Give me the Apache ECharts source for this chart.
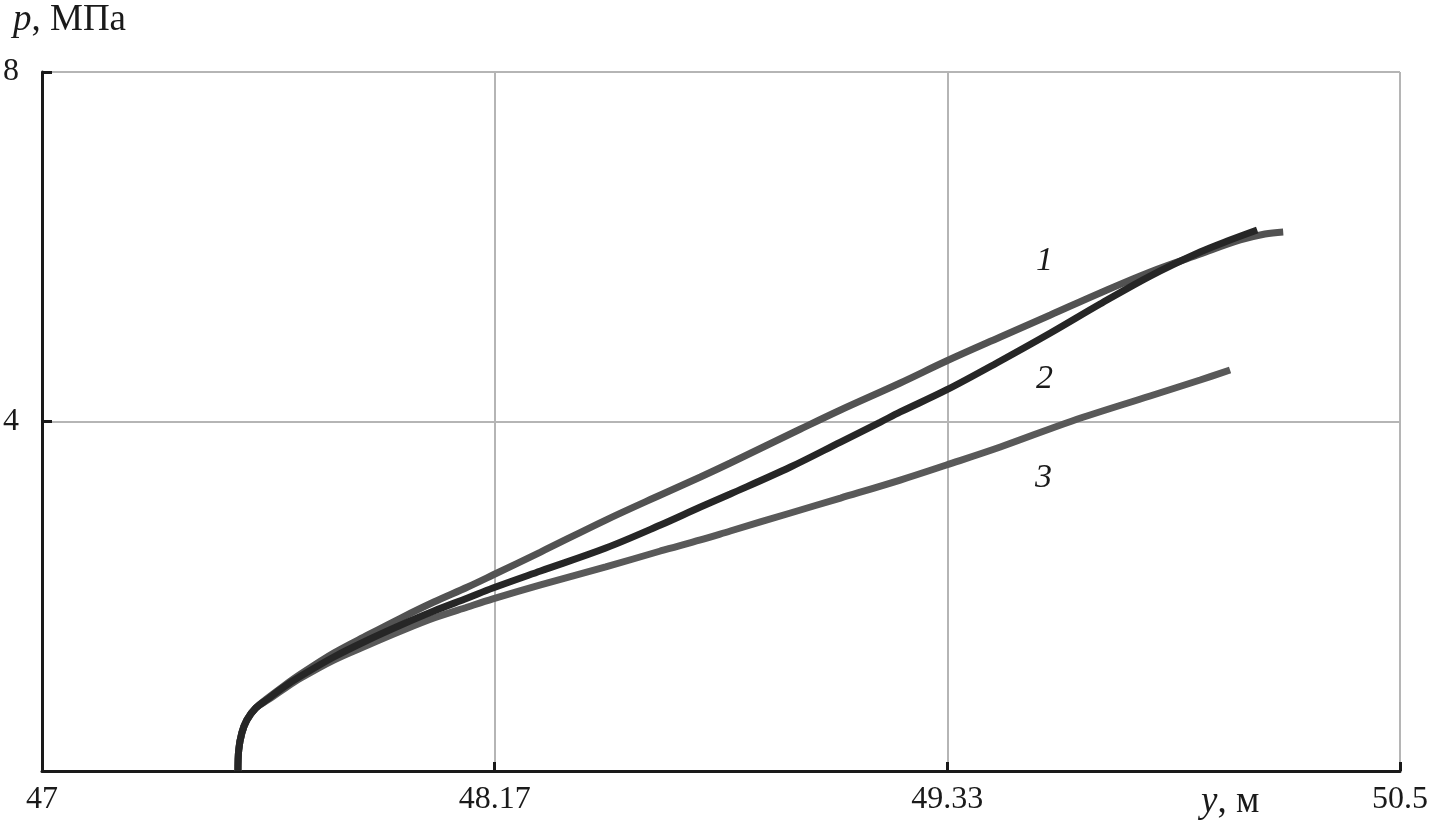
<!DOCTYPE html>
<html>
<head>
<meta charset="utf-8">
<script src="https://cdn.jsdelivr.net/npm/echarts@6/dist/echarts.min.js"></script>
<style>
html,body{margin:0;padding:0;background:#fff;}
#chart{width:1436px;height:834px;}
</style>
</head>
<body>
<div id="chart"></div>
<script>
// ---- data ----
const xTickValues = [47, 48.1667, 49.3333, 50.5];
const xTickLabels = ['47', '48.17', '49.33', '50.5'];

const curve1X = [47.505,47.507,47.515,47.528,47.551,47.582,47.623,47.667,47.752,47.840,47.925,48.010,48.097,48.162,48.285,48.453,48.594,48.697,48.774,48.955,49.058,49.212,49.331,49.470,49.599,49.727,49.856,49.985,50.088,50.152,50.199];
const curve1Y = [0,0.24,0.435,0.584,0.721,0.835,0.973,1.11,1.35,1.557,1.751,1.934,2.106,2.243,2.506,2.872,3.159,3.365,3.525,3.914,4.132,4.441,4.692,4.967,5.219,5.471,5.711,5.917,6.077,6.146,6.169];

const curve2X = [47.505,47.507,47.515,47.528,47.551,47.582,47.623,47.667,47.752,47.840,47.925,48.010,48.097,48.162,48.285,48.453,48.594,48.697,48.774,48.929,49.058,49.161,49.212,49.331,49.470,49.599,49.727,49.856,49.985,50.062,50.132];
const curve2Y = [0,0.24,0.435,0.584,0.721,0.824,0.961,1.087,1.305,1.499,1.671,1.831,1.98,2.094,2.289,2.552,2.815,3.021,3.17,3.479,3.765,3.994,4.109,4.361,4.693,5.013,5.345,5.665,5.94,6.077,6.192];

const curve3X = [47.505,47.507,47.515,47.528,47.551,47.582,47.623,47.667,47.752,47.840,47.925,48.010,48.097,48.162,48.285,48.453,48.594,48.697,48.774,48.929,49.058,49.212,49.331,49.470,49.655,49.856,49.985,50.062];
const curve3Y = [0,0.24,0.435,0.584,0.721,0.813,0.938,1.064,1.27,1.442,1.602,1.751,1.877,1.969,2.129,2.335,2.518,2.644,2.747,2.953,3.124,3.33,3.502,3.708,4.006,4.292,4.475,4.589];

const curveNames = ['1', '2', '3'];

// ---- build ----
function pairs(xs, ys) { return xs.map((x, i) => [x, ys[i]]); }
const SERIF = '"Liberation Serif", "DejaVu Serif", serif';
const INK = '#1a1a1a';

const chart = echarts.init(document.getElementById('chart'), null, {renderer: 'canvas'});

const option = {
  animation: false,
  backgroundColor: '#ffffff',
  grid: {left: 41, right: 36, top: 72, bottom: 63, containLabel: false},
  xAxis: {
    type: 'value', min: 47, max: 50.5,
    axisLine: {show: true, onZero: false, lineStyle: {color: INK, width: 3}},
    axisTick: {show: true, inside: true, length: 9, customValues: xTickValues, lineStyle: {color: INK, width: 3}},
    splitLine: {show: true, lineStyle: {color: '#b5b5b5', width: 2}},
    axisLabel: {
      customValues: xTickValues,
      margin: 13,
      color: INK, fontFamily: SERIF, fontSize: 32,
      formatter: function (v) {
        let best = 0;
        xTickValues.forEach((t, i) => { if (Math.abs(t - v) < Math.abs(xTickValues[best] - v)) best = i; });
        return xTickLabels[best];
      }
    }
  },
  yAxis: {
    type: 'value', min: 0, max: 8, interval: 4,
    axisLine: {show: true, onZero: false, lineStyle: {color: INK, width: 3}},
    axisTick: {show: true, inside: true, length: 10, lineStyle: {color: INK, width: 3}},
    splitLine: {show: true, lineStyle: {color: '#b5b5b5', width: 2}},
    axisLabel: {
      showMinLabel: false, margin: 23,
      color: INK, fontFamily: SERIF, fontSize: 32
    }
  },
  graphic: [
    {type: 'text', left: 13, top: 2, style: {
      text: '{i|p}, МПа', fill: INK, font: '37px ' + SERIF,
      rich: {i: {fontStyle: 'italic', fontFamily: SERIF, fontSize: 37, fill: INK}}
    }},
    {type: 'text', left: 1201, top: 784, style: {
      text: '{i|y}, м', fill: INK, font: '37px ' + SERIF,
      rich: {i: {fontStyle: 'italic', fontFamily: SERIF, fontSize: 37, fill: INK}}
    }},
    {type: 'text', left: 1036, top: 244, style: {text: curveNames[0], fill: INK, font: 'italic 34px ' + SERIF}},
    {type: 'text', left: 1036, top: 362, style: {text: curveNames[1], fill: INK, font: 'italic 34px ' + SERIF}},
    {type: 'text', left: 1035, top: 461, style: {text: curveNames[2], fill: INK, font: 'italic 34px ' + SERIF}}
  ],
  series: [
    {name: curveNames[2], type: 'line', data: pairs(curve3X, curve3Y), showSymbol: false, smooth: 0.35,
      lineStyle: {color: '#595959', width: 7, cap: 'butt'}, z: 2},
    {name: curveNames[0], type: 'line', data: pairs(curve1X, curve1Y), showSymbol: false, smooth: 0.35,
      lineStyle: {color: '#525252', width: 7, cap: 'butt'}, z: 3},
    {name: curveNames[1], type: 'line', data: pairs(curve2X, curve2Y), showSymbol: false, smooth: 0.35,
      lineStyle: {color: '#262626', width: 7, cap: 'butt'}, z: 4}
  ]
};
chart.setOption(option);
</script>
</body>
</html>
